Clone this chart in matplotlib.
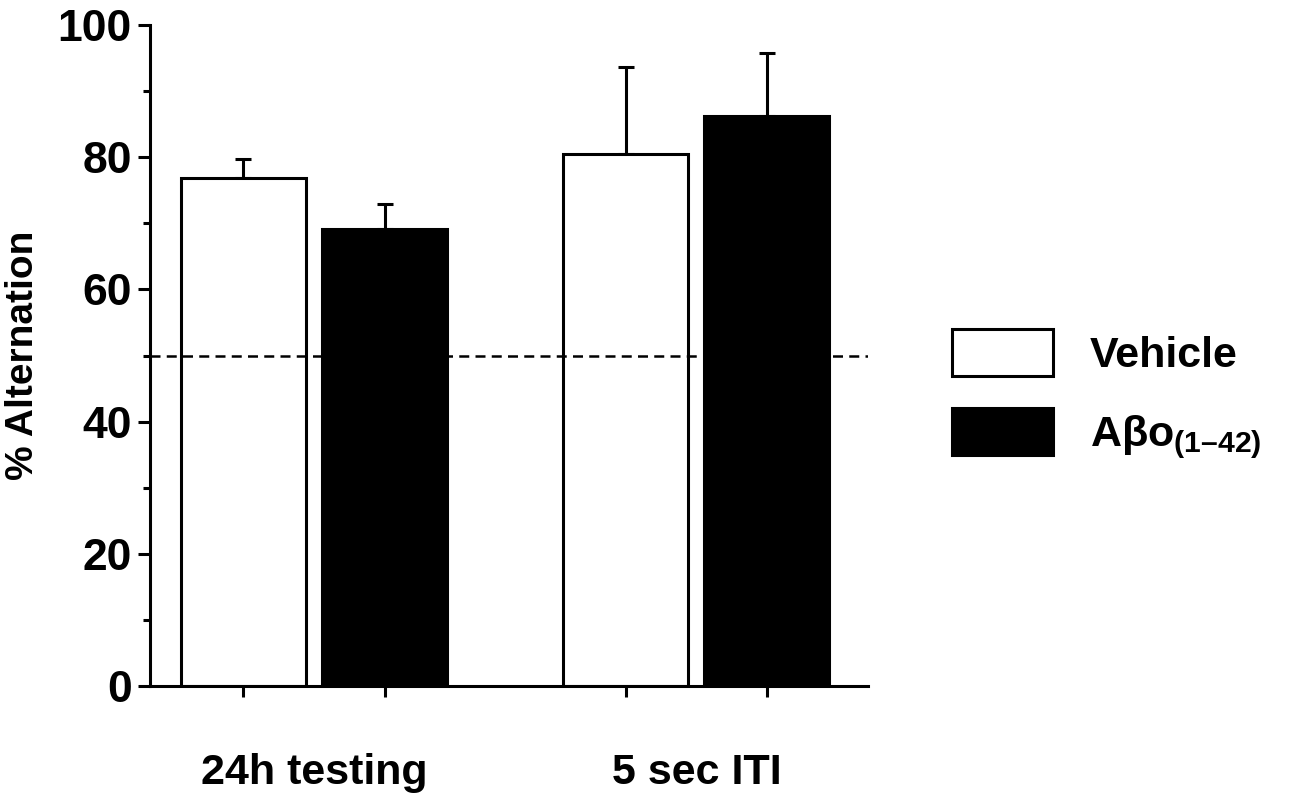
import matplotlib.pyplot as plt
import numpy as np

plt.rcParams['font.family'] = ['Liberation Sans', 'DejaVu Sans']
plt.rcParams['font.weight'] = 'bold'
plt.rcParams['mathtext.fontset'] = 'custom'
plt.rcParams['mathtext.rm'] = 'Liberation Sans:bold'
plt.rcParams['mathtext.bf'] = 'Liberation Sans:bold'
plt.rcParams['mathtext.default'] = 'bf'

groups = ["24h testing", "5 sec ITI"]
series = ["Vehicle", "Aβo$_{(1–42)}$"]
vehicle = [76.9, 80.5]
vehicle_err = [2.8, 13.1]
abeta = [69.2, 86.2]
abeta_err = [3.8, 9.6]
chance = 50

fig = plt.figure(figsize=(13, 7.96), dpi=100)
ax = fig.add_axes([0.1154, 0.138, 0.552, 0.8306])

x = np.arange(len(groups))
w = 0.327
off = 0.1845
lw = 2.2

for vals, errs, fc, lab, sgn in [(vehicle, vehicle_err, 'white', series[0], -1),
                                  (abeta, abeta_err, 'black', series[1], 1)]:
    pos = x + sgn * off
    ax.errorbar(pos, vals, yerr=[np.zeros(len(errs)), errs], fmt='none',
                ecolor='black', elinewidth=lw, capsize=6, capthick=lw, zorder=1)
    ax.bar(pos, vals, width=w, color=fc, edgecolor='black', linewidth=lw,
           label=lab, zorder=2)

ax.axhline(chance, color='black', linestyle=(0, (4, 2.5)), linewidth=1.8, zorder=3)

ax.set_xlim(-0.429, 1.448)
ax.set_ylim(0, 100)
ax.spines['top'].set_visible(False)
ax.spines['right'].set_visible(False)
ax.spines['left'].set_linewidth(lw)
ax.spines['bottom'].set_linewidth(lw)

ax.set_yticks([0, 20, 40, 60, 80, 100])
ax.set_yticks([10, 30, 50, 70, 90], minor=True)
ax.tick_params(axis='y', which='major', length=9, width=lw, labelsize=32, pad=4)
ax.tick_params(axis='y', which='minor', length=5, width=lw)

ax.set_xticks(np.concatenate([x - off, x + off]))
ax.set_xticklabels([])
ax.set_xticks(x, minor=True)
ax.set_xticklabels(groups, minor=True)
ax.tick_params(axis='x', which='major', length=8, width=lw)
ax.tick_params(axis='x', which='minor', length=0, labelsize=31, pad=48)

ax.set_ylabel("% Alternation", fontsize=28, fontweight='bold', labelpad=12)

ax.legend(loc='center left', bbox_to_anchor=(1.094, 0.44), frameon=False,
          fontsize=31, handlelength=2.35, handleheight=1.3, labelspacing=0.75,
          handletextpad=0.85, borderaxespad=0)

fig.savefig('out.png', dpi=100)
